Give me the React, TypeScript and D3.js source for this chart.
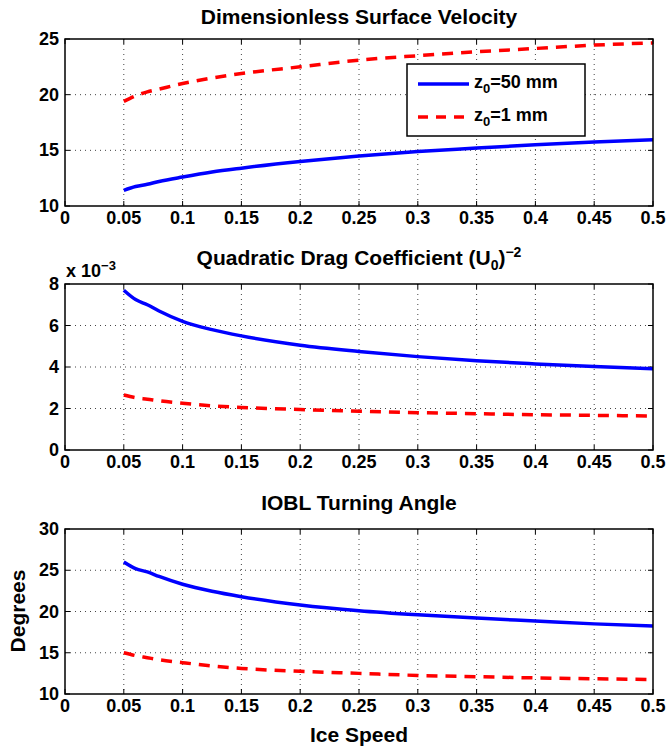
import React from 'react'
import * as d3 from 'd3'

// ice speed samples
const speed = [0.05, 0.06, 0.07, 0.08, 0.1, 0.125, 0.15, 0.2, 0.25, 0.3, 0.35, 0.4, 0.45, 0.5]

// dimensionless surface velocity
const velRough = [11.4, 11.75, 11.95, 12.2, 12.6, 13.05, 13.4, 14.0, 14.5, 14.9, 15.2, 15.5, 15.75, 15.95]
const velSmooth = [19.4, 19.9, 20.25, 20.5, 21.0, 21.5, 21.9, 22.5, 23.1, 23.5, 23.85, 24.15, 24.45, 24.65]

// drag coefficient (x 10^-3)
const dragRough = [7.7, 7.25, 7.0, 6.7, 6.2, 5.8, 5.5, 5.05, 4.75, 4.5, 4.3, 4.15, 4.02, 3.92]
const dragSmooth = [2.65, 2.52, 2.45, 2.37, 2.25, 2.13, 2.05, 1.95, 1.87, 1.8, 1.75, 1.7, 1.67, 1.64]

// turning angle, degrees
const angRough = [26.0, 25.2, 24.8, 24.25, 23.3, 22.45, 21.8, 20.8, 20.1, 19.6, 19.2, 18.85, 18.5, 18.25]
const angSmooth = [15.0, 14.65, 14.4, 14.15, 13.8, 13.4, 13.1, 12.75, 12.5, 12.25, 12.1, 11.95, 11.85, 11.75]

const xTicks = [0, 0.05, 0.1, 0.15, 0.2, 0.25, 0.3, 0.35, 0.4, 0.45, 0.5]
const velTicks = [10, 15, 20, 25]
const dragTicks = [0, 2, 4, 6, 8]
const angTicks = [10, 15, 20, 25, 30]

const legendLabels = ['50 mm', '1 mm']

const font = '"Liberation Sans", Arial, Helvetica, sans-serif'
const left = 65
const right = 653
const blue = '#0000ff'
const red = '#ff0000'

const x = d3.scaleLinear().domain([0, 0.5]).range([left, right])

const Panel = ({ top, bottom, domain, ticks, rough, smooth }) => {
  const y = d3.scaleLinear().domain(domain).range([bottom, top])
  const line = (vals) =>
    d3
      .line()
      .x((d, i) => x(speed[i]))
      .y((d) => y(d))
      .curve(d3.curveMonotoneX)(vals)

  return (
    <g>
      {/* grid */}
      {xTicks.slice(1, -1).map((t) => (
        <line key={'gx' + t} x1={x(t)} x2={x(t)} y1={top} y2={bottom}
          stroke="#444" strokeDasharray="1,4" strokeWidth={1} />
      ))}
      {ticks.slice(1, -1).map((t) => (
        <line key={'gy' + t} x1={left} x2={right} y1={y(t)} y2={y(t)}
          stroke="#444" strokeDasharray="1,4" strokeWidth={1} />
      ))}
      {/* ticks */}
      {xTicks.map((t) => (
        <g key={'tx' + t}>
          <line x1={x(t)} x2={x(t)} y1={bottom} y2={bottom - 5} stroke="#000" />
          <line x1={x(t)} x2={x(t)} y1={top} y2={top + 5} stroke="#000" />
          <text x={x(t)} y={bottom + 18} textAnchor="middle" fontSize={18}
            fontWeight="bold">{t}</text>
        </g>
      ))}
      {ticks.map((t) => (
        <g key={'ty' + t}>
          <line x1={left} x2={left + 5} y1={y(t)} y2={y(t)} stroke="#000" />
          <line x1={right} x2={right - 5} y1={y(t)} y2={y(t)} stroke="#000" />
          <text x={left - 6} y={y(t) + 6} textAnchor="end" fontSize={18}
            fontWeight="bold">{t}</text>
        </g>
      ))}
      <path d={line(rough)} fill="none" stroke={blue} strokeWidth={3.5} />
      <path d={line(smooth)} fill="none" stroke={red} strokeWidth={3.5}
        strokeDasharray="11,8" />
      <rect x={left} y={top} width={right - left} height={bottom - top}
        fill="none" stroke="#000" strokeWidth={1.5} />
    </g>
  )
}

const App = () => {
  return (
    <svg width={667} height={746} style={{ position: 'absolute', left: 0, top: 0 }}
      fontFamily={font}>
      <rect width={667} height={746} fill="#fff" />

      {/* panel 1 */}
      <text x={359} y={24} textAnchor="middle" fontSize={21} fontWeight="bold">
        Dimensionless Surface Velocity
      </text>
      <Panel top={39} bottom={206} domain={[10, 25]} ticks={velTicks}
        rough={velRough} smooth={velSmooth} />
      <g>
        <rect x={407} y={64} width={178} height={72} fill="#fff" stroke="#000"
          strokeWidth={1.5} />
        <line x1={418} x2={469} y1={84} y2={84} stroke={blue} strokeWidth={3.5} />
        <line x1={418} x2={469} y1={117} y2={117} stroke={red} strokeWidth={3.5}
          strokeDasharray="10,8" />
        {legendLabels.map((l, i) => (
          <text key={l} x={474} y={88 + i * 33} fontSize={18} fontWeight="bold">
            z<tspan fontSize={13} dy={5}>0</tspan>
            <tspan dy={-5}>={l}</tspan>
          </text>
        ))}
      </g>

      {/* panel 2 */}
      <text x={359} y={265} textAnchor="middle" fontSize={21} fontWeight="bold">
        Quadratic Drag Coefficient (U<tspan fontSize={14} dy={5}>0</tspan>
        <tspan dy={-5}>)</tspan>
        <tspan fontSize={14} dy={-8}>−2</tspan>
      </text>
      <text x={66} y={277} fontSize={18} fontWeight="bold">
        x 10<tspan fontSize={13} dy={-7}>−3</tspan>
      </text>
      <Panel top={284} bottom={450} domain={[0, 8]} ticks={dragTicks}
        rough={dragRough} smooth={dragSmooth} />

      {/* panel 3 */}
      <text x={359} y={510} textAnchor="middle" fontSize={21} fontWeight="bold">
        IOBL Turning Angle
      </text>
      <Panel top={529} bottom={694} domain={[10, 30]} ticks={angTicks}
        rough={angRough} smooth={angSmooth} />
      <text x={359} y={742} textAnchor="middle" fontSize={21} fontWeight="bold">
        Ice Speed
      </text>
      <text transform="translate(25,611) rotate(-90)" textAnchor="middle"
        fontSize={21} fontWeight="bold">
        Degrees
      </text>
    </svg>
  )
}

export default App
